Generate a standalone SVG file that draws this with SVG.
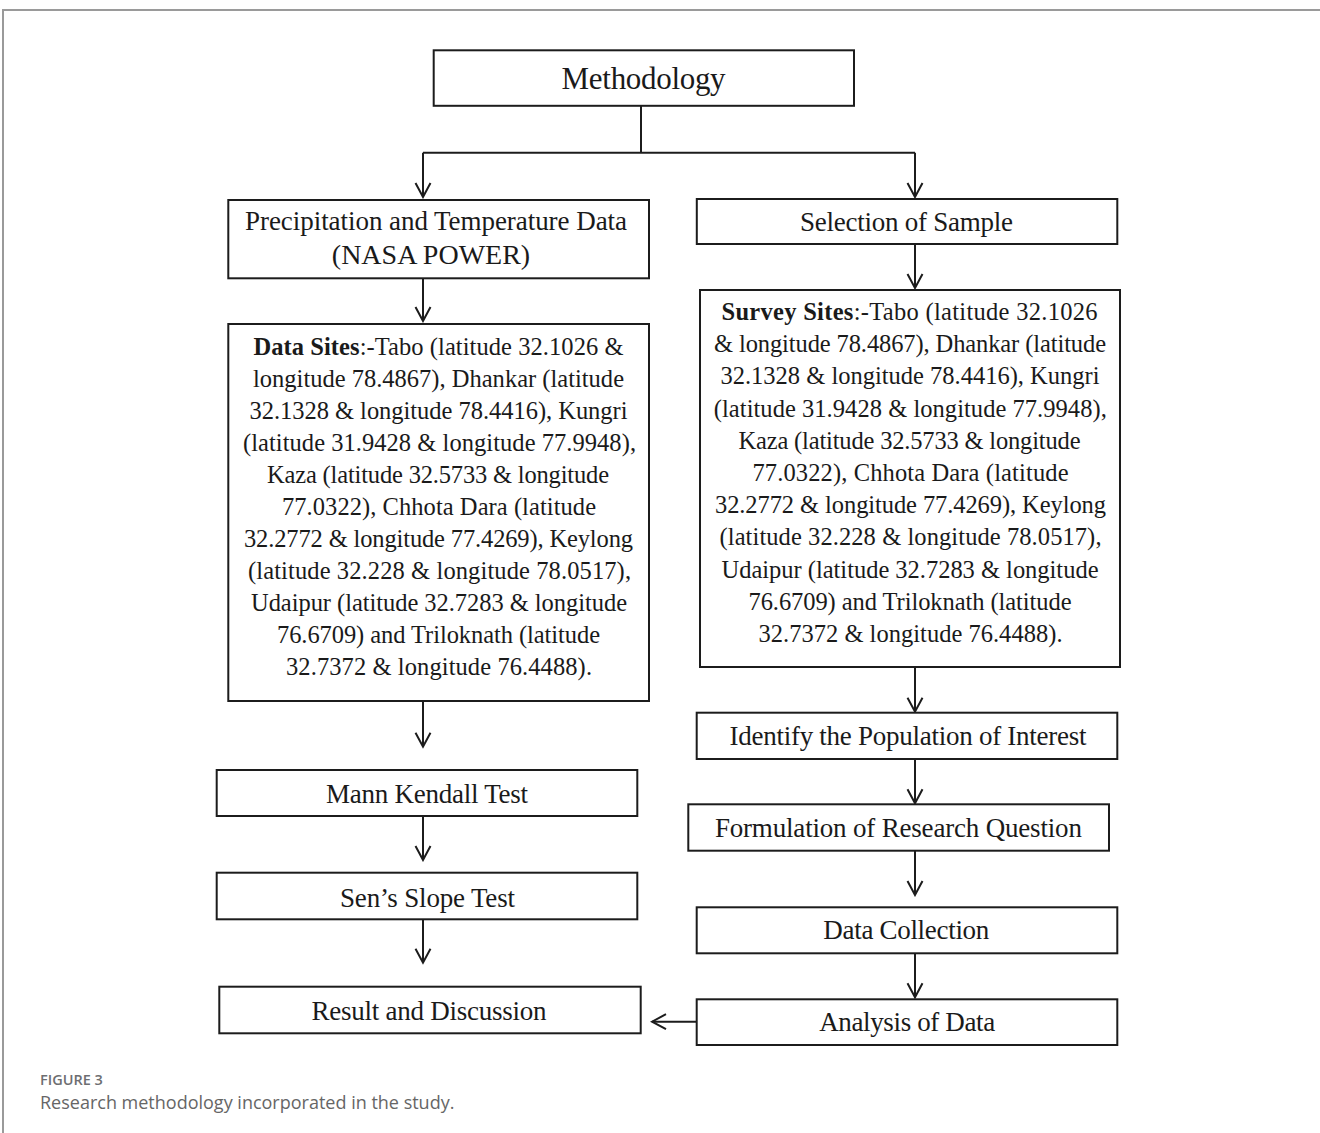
<svg xmlns="http://www.w3.org/2000/svg" width="1320" height="1133" viewBox="0 0 1320 1133">
<defs>
<style>
.box{fill:#fff;stroke:#1c1c1c;stroke-width:2}
.t{font-family:"Liberation Serif","Times New Roman",serif;fill:#1a1a1a;text-anchor:middle}
.lbl{font-size:27px}
.par{font-size:24.5px}
.b{font-weight:bold}
.con{fill:none;stroke:#1c1c1c;stroke-width:2}
.cap{font-family:"Open Sans","Liberation Sans",sans-serif}
</style>
<marker id="arr" viewBox="-16 -10 18 20" markerWidth="18" markerHeight="20" refX="0" refY="0" orient="auto" markerUnits="userSpaceOnUse">
<path d="M-14,-7.5 L0,0 L-14,7.5" fill="none" stroke="#1c1c1c" stroke-width="2"/>
</marker>
</defs>
<rect width="1320" height="1133" fill="#fff"/>
<path d="M3,1133 V10 H1320" fill="none" stroke="#9a9a9a" stroke-width="2"/>

<g id="connectors">
<path class="con" d="M641,106 V152.7"/>
<path class="con" d="M423,152.7 H915"/>
<path class="con" d="M423,152.7 V197" marker-end="url(#arr)"/>
<path class="con" d="M915,152.7 V197" marker-end="url(#arr)"/>
<path class="con" d="M423,278 V321" marker-end="url(#arr)"/>
<path class="con" d="M423,701 V746.7" marker-end="url(#arr)"/>
<path class="con" d="M423,816 V860" marker-end="url(#arr)"/>
<path class="con" d="M423,919 V962.7" marker-end="url(#arr)"/>
<path class="con" d="M915,244 V288" marker-end="url(#arr)"/>
<path class="con" d="M915,667 V711.7" marker-end="url(#arr)"/>
<path class="con" d="M915,759 V803.3" marker-end="url(#arr)"/>
<path class="con" d="M915,850.7 V895" marker-end="url(#arr)"/>
<path class="con" d="M915,953.3 V997.3" marker-end="url(#arr)"/>
<path class="con" d="M697,1021.7 H652" marker-end="url(#arr)"/>
</g>

<g id="methodology">
<rect class="box" x="433.7" y="50.3" width="420.3" height="55.5"/>
<text class="t" x="643.6" y="88.5" font-size="31" textLength="164">Methodology</text>
</g>

<g id="precip">
<rect class="box" x="228.3" y="200" width="420.7" height="78.3"/>
<text class="t lbl" x="436" y="230" textLength="382">Precipitation and Temperature Data</text>
<text class="t" x="431" y="264" font-size="28">(NASA POWER)</text>
</g>

<g id="data-sites">
<rect class="box" x="228.3" y="324" width="420.7" height="377"/>
<text class="t par" x="438.5" y="355" textLength="370"><tspan class="b">Data Sites</tspan>:-Tabo (latitude 32.1026 &amp;</text>
<text class="t par" x="438.5" y="387" textLength="371">longitude 78.4867), Dhankar (latitude</text>
<text class="t par" x="438.5" y="419" textLength="378">32.1328 &amp; longitude 78.4416), Kungri</text>
<text class="t par" x="439.5" y="451" textLength="393">(latitude 31.9428 &amp; longitude 77.9948),</text>
<text class="t par" x="438" y="483" textLength="342">Kaza (latitude 32.5733 &amp; longitude</text>
<text class="t par" x="439" y="515" textLength="314">77.0322), Chhota Dara (latitude</text>
<text class="t par" x="438.5" y="547" textLength="389">32.2772 &amp; longitude 77.4269), Keylong</text>
<text class="t par" x="439.5" y="579" textLength="383">(latitude 32.228 &amp; longitude 78.0517),</text>
<text class="t par" x="439" y="611" textLength="376">Udaipur (latitude 32.7283 &amp; longitude</text>
<text class="t par" x="438.5" y="643" textLength="323">76.6709) and Triloknath (latitude</text>
<text class="t par" x="439" y="675" textLength="306">32.7372 &amp; longitude 76.4488).</text>
</g>

<g id="mann-kendall">
<rect class="box" x="216.7" y="770" width="420.6" height="46"/>
<text class="t lbl" x="427" y="803" textLength="202">Mann Kendall Test</text>
</g>

<g id="sens-slope">
<rect class="box" x="216.7" y="872.7" width="420.6" height="46.6"/>
<text class="t lbl" x="427.5" y="906.5" textLength="175">Sen’s Slope Test</text>
</g>

<g id="result">
<rect class="box" x="219.3" y="986.7" width="421.4" height="46.6"/>
<text class="t lbl" x="429" y="1020" textLength="235">Result and Discussion</text>
</g>

<g id="selection">
<rect class="box" x="696.8" y="199" width="420.5" height="45"/>
<text class="t lbl" x="906.5" y="231" textLength="213">Selection of Sample</text>
</g>

<g id="survey-sites">
<rect class="box" x="700" y="290" width="420" height="377"/>
<text class="t par" x="909.5" y="320" textLength="376"><tspan class="b">Survey Sites</tspan>:-Tabo (latitude 32.1026</text>
<text class="t par" x="910" y="352.2" textLength="392">&amp; longitude 78.4867), Dhankar (latitude</text>
<text class="t par" x="910" y="384.4" textLength="379">32.1328 &amp; longitude 78.4416), Kungri</text>
<text class="t par" x="910.3" y="416.6" textLength="393">(latitude 31.9428 &amp; longitude 77.9948),</text>
<text class="t par" x="909.5" y="448.8" textLength="342">Kaza (latitude 32.5733 &amp; longitude</text>
<text class="t par" x="910.5" y="481" textLength="316">77.0322), Chhota Dara (latitude</text>
<text class="t par" x="910.5" y="513.2" textLength="391">32.2772 &amp; longitude 77.4269), Keylong</text>
<text class="t par" x="910.5" y="545.4" textLength="382">(latitude 32.228 &amp; longitude 78.0517),</text>
<text class="t par" x="910" y="577.6" textLength="377">Udaipur (latitude 32.7283 &amp; longitude</text>
<text class="t par" x="910" y="609.8" textLength="323">76.6709) and Triloknath (latitude</text>
<text class="t par" x="910.5" y="642" textLength="304">32.7372 &amp; longitude 76.4488).</text>
</g>

<g id="identify">
<rect class="box" x="696.7" y="712.7" width="420.6" height="46.3"/>
<text class="t lbl" x="908" y="745" textLength="357">Identify the Population of Interest</text>
</g>

<g id="formulation">
<rect class="box" x="688.3" y="804.3" width="420.7" height="46.4"/>
<text class="t lbl" x="898.4" y="836.7" textLength="367">Formulation of Research Question</text>
</g>

<g id="data-collection">
<rect class="box" x="696.7" y="907.3" width="420.6" height="46"/>
<text class="t lbl" x="906.3" y="939.3" textLength="166">Data Collection</text>
</g>

<g id="analysis">
<rect class="box" x="696.7" y="999.3" width="420.6" height="45.7"/>
<text class="t lbl" x="907.2" y="1030.7" textLength="176">Analysis of Data</text>
</g>

<g id="caption">
<text class="cap" x="40" y="1085" font-size="14.5" font-weight="600" fill="#6d6e71">FIGURE 3</text>
<text class="cap" x="40" y="1109" font-size="18" fill="#666">Research methodology incorporated in the study.</text>
</g>
</svg>
